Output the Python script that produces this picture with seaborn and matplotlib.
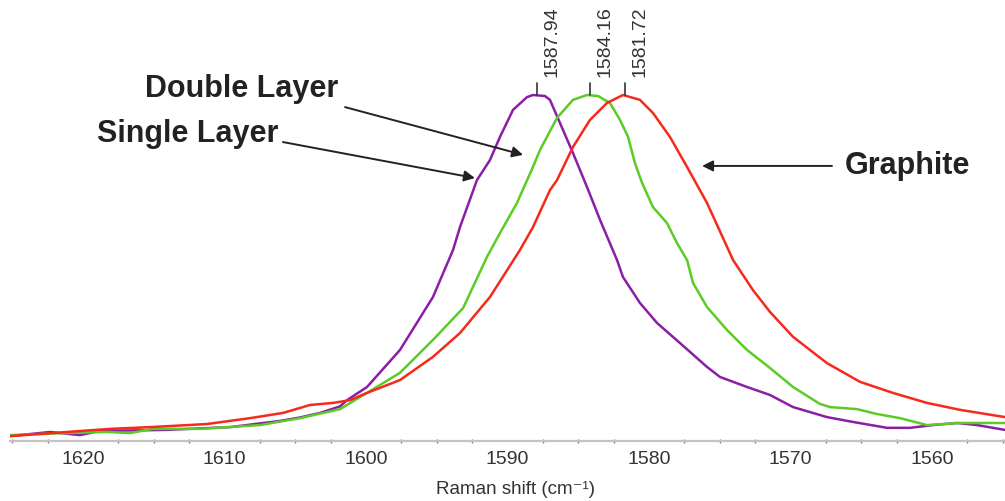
import matplotlib
matplotlib.use("Agg")
import matplotlib.pyplot as plt
import numpy as np
import pandas as pd
import seaborn as sns

# Raman G-band spectra (normalised intensity vs. Raman shift, cm^-1)
double_shift = [1625.16, 1623.04, 1622.33, 1620.21, 1618.80, 1614.20, 1609.61, 1606.08,
                1604.66, 1603.25, 1601.84, 1601.34, 1599.93, 1597.60, 1595.27, 1593.85,
                1593.36, 1592.16, 1591.24, 1590.53, 1589.61, 1588.62, 1588.20, 1587.35,
                1587.00, 1586.29, 1585.37, 1584.38, 1583.46, 1582.26, 1581.84, 1580.64,
                1579.43, 1577.81, 1575.90, 1574.98, 1573.07, 1571.45, 1569.82, 1567.42,
                1565.58, 1563.18, 1561.55, 1559.93, 1558.23, 1556.82, 1554.84]
double_int = [0.014, 0.023, 0.026, 0.017, 0.029, 0.032, 0.040, 0.058,
              0.068, 0.081, 0.100, 0.118, 0.156, 0.263, 0.416, 0.552,
              0.618, 0.754, 0.812, 0.879, 0.957, 0.994, 1.000, 0.997,
              0.986, 0.919, 0.832, 0.734, 0.639, 0.523, 0.474, 0.399,
              0.341, 0.283, 0.214, 0.185, 0.156, 0.133, 0.098, 0.069,
              0.055, 0.038, 0.038, 0.046, 0.052, 0.046, 0.032]

single_shift = [1625.16, 1621.13, 1618.30, 1616.68, 1615.05, 1611.73, 1607.49, 1604.66,
                1601.84, 1599.93, 1597.60, 1595.27, 1593.14, 1591.45, 1590.53, 1589.33,
                1588.20, 1587.70, 1586.50, 1585.37, 1584.38, 1583.60, 1582.76, 1582.05,
                1581.48, 1580.99, 1580.49, 1579.72, 1578.73, 1578.02, 1577.31, 1576.89,
                1575.90, 1574.49, 1573.07, 1571.45, 1569.82, 1567.92, 1567.21, 1565.30,
                1563.89, 1562.26, 1560.35, 1558.02, 1554.84]
single_int = [0.017, 0.023, 0.026, 0.023, 0.035, 0.035, 0.046, 0.066,
              0.092, 0.139, 0.197, 0.292, 0.384, 0.532, 0.601, 0.688,
              0.792, 0.841, 0.934, 0.986, 1.000, 0.997, 0.977, 0.928,
              0.879, 0.803, 0.746, 0.676, 0.630, 0.572, 0.523, 0.457,
              0.387, 0.321, 0.263, 0.211, 0.156, 0.107, 0.098, 0.092,
              0.078, 0.066, 0.046, 0.052, 0.052]

graphite_shift = [1625.16, 1621.13, 1618.09, 1615.27, 1611.24, 1608.20, 1605.87, 1603.96,
                  1602.33, 1601.13, 1599.93, 1597.60, 1595.27, 1593.36, 1591.24, 1589.12,
                  1588.20, 1587.00, 1586.50, 1585.37, 1584.17, 1582.97, 1581.84, 1580.64,
                  1579.72, 1578.52, 1577.31, 1575.90, 1574.06, 1572.65, 1571.45, 1569.82,
                  1567.42, 1565.09, 1562.76, 1560.35, 1558.02, 1554.84]
graphite_int = [0.014, 0.026, 0.035, 0.040, 0.049, 0.066, 0.081, 0.104,
                0.110, 0.118, 0.139, 0.176, 0.243, 0.312, 0.416, 0.552,
                0.618, 0.725, 0.754, 0.850, 0.928, 0.977, 1.000, 0.986,
                0.948, 0.879, 0.792, 0.688, 0.523, 0.436, 0.373, 0.301,
                0.225, 0.171, 0.139, 0.110, 0.090, 0.069]

series_names = ["Double Layer", "Single Layer", "Graphite"]
series_colors = ["#8a1fa6", "#5ccb26", "#f7291b"]
peak_positions = [1587.94, 1584.16, 1581.72]
peak_labels = ["1587.94", "1584.16", "1581.72"]
major_ticks = [1620, 1610, 1600, 1590, 1580, 1570, 1560]

frames = []
for name, xs, ys in zip(series_names,
                        [double_shift, single_shift, graphite_shift],
                        [double_int, single_int, graphite_int]):
    frames.append(pd.DataFrame({"shift": xs, "intensity": ys, "sample": name}))
df = pd.concat(frames, ignore_index=True)

sns.set_theme(style="white")
plt.rcParams["font.family"] = ["Liberation Sans", "DejaVu Sans"]

fig = plt.figure(figsize=(10.05, 5.01), dpi=100)
ax = fig.add_axes([0.00995, 0.1198, 0.99005, 0.8802])

sns.lineplot(data=df, x="shift", y="intensity", hue="sample",
             hue_order=series_names, palette=series_colors,
             sort=False, estimator=None, linewidth=1.8, legend=False, ax=ax)

ax.set_xlim(1625.16, 1554.84)
ax.set_ylim(0, 1.2746)

for s in ["left", "top", "right"]:
    ax.spines[s].set_visible(False)
ax.spines["bottom"].set_color("#c4c4c4")
ax.spines["bottom"].set_linewidth(1.6)

ax.set_yticks([])
ax.set_xticks(major_ticks)
ax.set_xticklabels([str(t) for t in major_ticks])
ax.set_xticks(np.arange(1555, 1626, 2.5), minor=True)
ax.tick_params(axis="x", which="major", direction="inout", length=4, width=1.2,
               color="#555555", labelsize=14, labelcolor="#333333", pad=5)
ax.tick_params(axis="x", which="minor", direction="inout", length=3, width=1.0,
               color="#777777", bottom=True)
ax.set_xlabel("Raman shift (cm⁻¹)", fontsize=13.5, color="#333333")
ax.xaxis.set_label_coords(0.5085, -0.091)
ax.set_ylabel("")

# Peak position markers
for pos, lab in zip(peak_positions, peak_labels):
    ax.plot([pos, pos], [1.0, 1.035], color="#333333", lw=1.2)
    ax.annotate(lab, xy=(pos, 1.035), xytext=(11, 4), textcoords="offset points",
                rotation=90, ha="center", va="bottom", fontsize=14, color="#333333")

# Curve labels with arrows
arrow = dict(arrowstyle="-|>", color="#222222", lw=1.4, mutation_scale=16,
             shrinkA=0, shrinkB=0)
ax.annotate("", xy=(1588.90, 0.827), xytext=(1601.48, 0.965), arrowprops=arrow)
ax.annotate("", xy=(1592.30, 0.760), xytext=(1605.87, 0.864), arrowprops=arrow)
ax.annotate("", xy=(1576.25, 0.795), xytext=(1567.07, 0.795), arrowprops=arrow)

ax.text(1615.62, 0.994, "Double Layer", fontsize=22, fontweight="bold",
        color="#222222", ha="left", va="baseline")
ax.text(1619.01, 0.864, "Single Layer", fontsize=22, fontweight="bold",
        color="#222222", ha="left", va="baseline")
ax.text(1566.15, 0.772, "Graphite", fontsize=22, fontweight="bold",
        color="#222222", ha="left", va="baseline")

fig.savefig("out.png", dpi=100)
